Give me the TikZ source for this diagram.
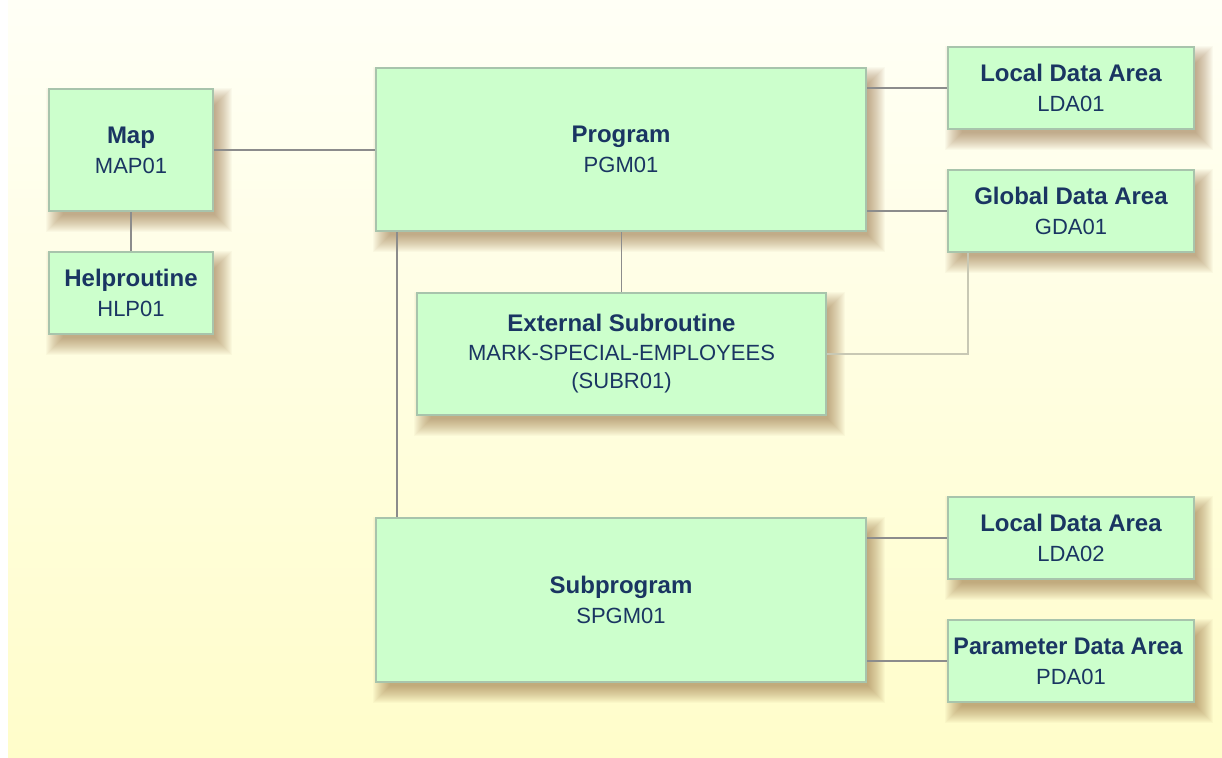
\documentclass[tikz,border=0pt]{standalone}
\usepackage{fontspec}
\setmainfont{Liberation Sans}
\usetikzlibrary{calc}
\pgfdeclarelayer{bgl}
\pgfdeclarelayer{shl}
\pgfsetlayers{bgl,shl,main}
\definecolor{boxfill}{HTML}{CCFFCC}
\definecolor{boxborder}{HTML}{A8C4AC}
\definecolor{navy}{HTML}{1A3562}
\definecolor{linec}{HTML}{8C8C8C}
\definecolor{lightlinec}{HTML}{C8C8B4}
\definecolor{bgtop}{HTML}{FFFFF6}
\definecolor{bgbot}{HTML}{FFFDCA}
\definecolor{shadowc}{RGB}{140,95,45}
\newcommand\ttl[1]{{\fontsize{24}{30}\selectfont\bfseries #1}}
\tikzset{
  box/.style={draw=boxborder, fill=boxfill, line width=1.2pt, inner sep=0pt,
    outer sep=0pt, anchor=north west, align=center, text=navy,
    font=\fontsize{22}{30}\selectfont},
  conn/.style={draw=linec, line width=1.3pt},
  lightconn/.style={draw=lightlinec, line width=1.3pt}
}
\begin{document}
\begin{tikzpicture}[x=1pt,y=-1pt]
\useasboundingbox (0,0) rectangle (1222,757);
\begin{pgfonlayer}{bgl}
  \shade[top color=bgtop, bottom color=bgbot] (8,0) rectangle (1222,757);
\end{pgfonlayer}

\node[box, minimum width=164pt, minimum height=122pt] (map) at (49,89) {\ttl{Map}\\MAP01};
\node[box, minimum width=164pt, minimum height=82pt] (help) at (49,252) {\ttl{Helproutine}\\HLP01};
\node[box, minimum width=490pt, minimum height=163pt] (prog) at (376,68) {\ttl{Program}\\PGM01};
\node[box, minimum width=246pt, minimum height=82pt] (lda1) at (948,47) {\ttl{Local Data Area}\\LDA01};
\node[box, minimum width=246pt, minimum height=82pt] (gda) at (948,170) {\ttl{Global Data Area}\\GDA01};
\node[box, minimum width=409pt, minimum height=122pt, font=\fontsize{22}{28.5}\selectfont] (ext) at (417,293)
  {{\fontsize{24}{28.5}\selectfont\bfseries External Subroutine}\\MARK-SPECIAL-EMPLOYEES\\(SUBR01)};
\node[box, minimum width=490pt, minimum height=164pt] (sub) at (376,518) {\ttl{Subprogram}\\SPGM01};
\node[box, minimum width=246pt, minimum height=82pt] (lda2) at (948,497) {\ttl{Local Data Area}\\LDA02};
\node[box, minimum width=246pt, minimum height=82pt] (pda) at (948,620)
  {\ttl{\hspace*{-6pt}\scalebox{0.97}[1]{Parameter Data Area}}\\PDA01};

\begin{pgfonlayer}{shl}
  \foreach \n in {map,help,prog,lda1,gda,ext,sub,lda2,pda}{
    \foreach \d in {-6,-5,...,11}{
      \fill[shadowc, opacity=0.034]
        ([shift={(8-\d,10-\d)}]\n.north west) rectangle ([shift={(8+\d,10+\d)}]\n.south east);
    }
  }
  \path[conn] (map.east) -- (map.east -| prog.west);
  \path[conn] (map.south) -- (help.north);
  \path[conn] (lda1.west -| prog.east) -- (lda1.west);
  \path[conn] (gda.west -| prog.east) -- (gda.west);
  \path[conn] (ext.north) -- (ext.north |- prog.south);
  \coordinate (subtop) at ($(sub.north west)+(21,0)$);
  \path[conn] (subtop) -- (subtop |- prog.south);
  \coordinate (gdab) at ($(gda.south west)+(20,0)$);
  \path[lightconn] (ext.east) -| (gdab);
  \path[conn] (lda2.west -| sub.east) -- (lda2.west);
  \path[conn] (pda.west -| sub.east) -- (pda.west);
\end{pgfonlayer}
\end{tikzpicture}
\end{document}
